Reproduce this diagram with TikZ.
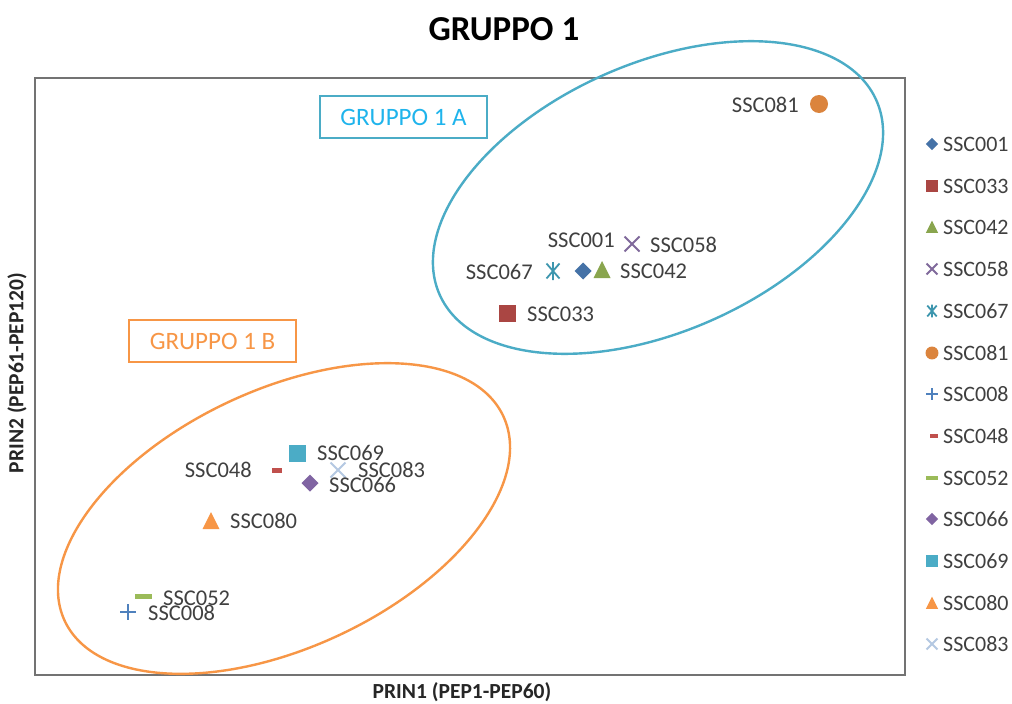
\documentclass[tikz,border=0pt]{standalone}
\usepackage{fontspec}
\setmainfont{Carlito}
\usetikzlibrary{calc}
\definecolor{c001}{HTML}{4572A7}
\definecolor{c033}{HTML}{AA4643}
\definecolor{c042}{HTML}{89A54E}
\definecolor{c058}{HTML}{80699B}
\definecolor{c067}{HTML}{3D96AE}
\definecolor{c081}{HTML}{DB843D}
\definecolor{c008}{HTML}{4F81BD}
\definecolor{c048}{HTML}{C0504D}
\definecolor{c052}{HTML}{9BBB59}
\definecolor{c066}{HTML}{8064A2}
\definecolor{c069}{HTML}{4BACC6}
\definecolor{c080}{HTML}{F79646}
\definecolor{c083}{HTML}{B4C8E2}
\definecolor{txt}{HTML}{404040}
\definecolor{grpA}{HTML}{4BACC6}
\definecolor{grpAtxt}{HTML}{1FB4EC}
\definecolor{grpB}{HTML}{F79646}
\tikzset{
  lbl/.style={font=\fontsize{22.5}{26}\selectfont, text=txt, inner sep=0pt, anchor=west},
  leglbl/.style={font=\fontsize{22}{26}\selectfont, text=txt, inner sep=0pt, anchor=west},
  grpbox/.style={draw, line width=2.6pt, font=\fontsize{25}{28}\selectfont, minimum width=167pt, minimum height=42pt, inner sep=0pt},
  grpell/.style={line width=2.4pt},
  pics/mdiam/.style={code={\fill[#1] (0,-8.5)--(8.5,0)--(0,8.5)--(-8.5,0)--cycle;}},
  pics/msq/.style={code={\fill[#1] (-8.5,-8.5) rectangle (8.5,8.5);}},
  pics/mtri/.style={code={\fill[#1] (-8.5,8) -- (8.5,8) -- (0,-9) -- cycle;}},
  pics/mcirc/.style={code={\fill[#1] (0,0) circle[radius=9pt];}},
  pics/mx/.style={code={\draw[#1, line width=1.8pt] (-7.5,-7.5)--(7.5,7.5) (-7.5,7.5)--(7.5,-7.5);}},
  pics/mast/.style={code={\draw[#1, line width=1.8pt] (-6.5,-7.5)--(6.5,7.5) (-6.5,7.5)--(6.5,-7.5) (0,-9)--(0,9);}},
  pics/mplus/.style={code={\draw[#1, line width=1.8pt] (-8,0)--(8,0) (0,-8)--(0,8);}},
  pics/mdash/.style={code={\fill[#1] (-8.5,-2.5) rectangle (8.5,2.5);}},
  pics/msdash/.style={code={\fill[#1] (-5,-2.5) rectangle (5,2.5);}},
}
\begin{document}
\begin{tikzpicture}[x=1pt,y=-1pt]
\useasboundingbox (0,0) rectangle (1012,704);
\fill[white] (0,0) rectangle (1012,704);
% title
\node[font=\bfseries\fontsize{35}{40}\selectfont, inner sep=0pt] (title) at (504,29) {GRUPPO 1};
% plot frame
\draw[line width=1.4pt, black!55] (35,78) rectangle (905,675);
% axis labels
\node[font=\bfseries\fontsize{21.5}{24}\selectfont, text=black!85, inner sep=0pt] (xlab) at (462,692) {PRIN1 (PEP1-PEP60)};
\node[font=\bfseries\fontsize{21.5}{24}\selectfont, text=black!85, inner sep=0pt, rotate=90] (ylab) at (17,373) {PRIN2 (PEP61-PEP120)};
% group ellipses
\draw[grpell, grpA, shift={(658,197.5)}, rotate=24] (0,0) ellipse[x radius=239pt, y radius=134pt];
\draw[grpell, grpB, shift={(284,518.5)}, rotate=25] (0,0) ellipse[x radius=242pt, y radius=129pt];
% group boxes
\node[grpbox, draw=grpA, text=grpAtxt] (boxA) at (403.5,117) {GRUPPO 1 A};
\node[grpbox, draw=grpB, text=grpB] (boxB) at (212.5,341) {GRUPPO 1 B};
% data points (group A)
\pic at (819,104) {mcirc=c081};
\node[lbl, anchor=east] (l081) at (799,105) {SSC081};
\pic at (632,244) {mx=c058};
\node[lbl] (l058) at (650,245) {SSC058};
\node[lbl, anchor=east] (l001) at (615,240) {SSC001};
\pic at (553,271) {mast=c067};
\node[lbl, anchor=east] (l067) at (533,272) {SSC067};
\pic at (583,271) {mdiam=c001};
\pic at (602,270) {mtri=c042};
\node[lbl] (l042) at (620,271) {SSC042};
\pic at (507,313) {msq=c033};
\node[lbl] (l033) at (527,314) {SSC033};
% data points (group B)
\pic at (297,453) {msq=c069};
\node[lbl] (l069) at (317,453) {SSC069};
\pic at (277,470) {msdash=c048};
\node[lbl, anchor=east] (l048) at (252,470) {SSC048};
\pic at (338,470) {mx=c083};
\node[lbl] (l083) at (358,470) {SSC083};
\pic at (310,483) {mdiam=c066};
\node[lbl] (l066) at (329,485) {SSC066};
\pic at (211,521) {mtri=c080};
\node[lbl] (l080) at (230,521) {SSC080};
\pic at (143,596) {mdash=c052};
\node[lbl] (l052) at (163,598) {SSC052};
\pic at (128,612) {mplus=c008};
\node[lbl] (l008) at (148,613) {SSC008};
% legend
\begin{scope}[every pic/.style={scale=0.72}]
\pic at (932,144) {mdiam=c001};
\node[leglbl] (g001) at (943,144) {SSC001};
\pic at (932,186) {msq=c033};
\node[leglbl] (g033) at (943,186) {SSC033};
\pic at (932,227) {mtri=c042};
\node[leglbl] (g042) at (943,227) {SSC042};
\pic at (932,269) {mx=c058};
\node[leglbl] (g058) at (943,269) {SSC058};
\pic at (932,311) {mast=c067};
\node[leglbl] (g067) at (943,311) {SSC067};
\pic at (932,353) {mcirc=c081};
\node[leglbl] (g081) at (943,353) {SSC081};
\pic at (932,394) {mplus=c008};
\node[leglbl] (g008) at (943,394) {SSC008};
\pic at (934,436) {msdash=c048};
\node[leglbl] (g048) at (943,436) {SSC048};
\pic at (932,478) {mdash=c052};
\node[leglbl] (g052) at (943,478) {SSC052};
\pic at (932,519) {mdiam=c066};
\node[leglbl] (g066) at (943,519) {SSC066};
\pic at (932,561) {msq=c069};
\node[leglbl] (g069) at (943,561) {SSC069};
\pic at (932,603) {mtri=c080};
\node[leglbl] (g080) at (943,603) {SSC080};
\pic at (932,644) {mx=c083};
\node[leglbl] (g083) at (943,644) {SSC083};
\end{scope}
\end{tikzpicture}
\end{document}
